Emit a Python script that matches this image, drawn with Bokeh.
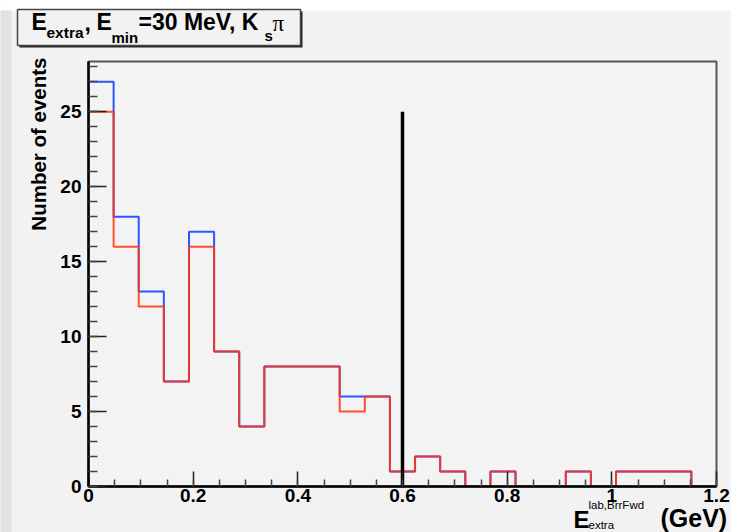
import numpy as np
from bokeh.plotting import figure
from bokeh.models import FixedTicker
from bokeh.core.properties import value
from bokeh.embed import file_html
from bokeh.resources import INLINE

# ---------------- data ----------------
bin_width = 0.048
n_bins = 25
x_min, x_max = 0.0, 1.2
y_max = 28.35
blue_counts = [27, 18, 13, 7, 17, 9, 4, 8, 8, 8, 6, 6, 1, 2, 1, 0, 1, 0, 0, 1, 0, 1, 1, 1, 0]
red_counts = [25, 16, 12, 7, 16, 9, 4, 8, 8, 8, 5, 6, 1, 2, 1, 0, 1, 0, 0, 1, 0, 1, 1, 1, 0]
cut_value = 0.6
cut_height = 25
x_ticks = [0, 0.2, 0.4, 0.6, 0.8, 1.0, 1.2]
x_tick_labels = ["0", "0.2", "0.4", "0.6", "0.8", "1", "1.2"]
y_ticks = [0, 5, 10, 15, 20, 25]
y_tick_labels = ["0", "5", "10", "15", "20", "25"]

W, H = 731, 532
FL, FR, FT, FB = 88, 716, 61, 486  # frame edges in pixels

bin_lo = [round(i * bin_width, 4) for i in range(n_bins)]
step_x = bin_lo + [x_max]

p = figure(width=W, height=H, output_backend="svg", toolbar_location=None,
           x_range=(x_min, x_max), y_range=(0, y_max),
           min_border_left=FL, min_border_right=W - FR,
           min_border_top=FT, min_border_bottom=H - FB)
p.border_fill_color = "#f2f2f2"
p.background_fill_color = "#f3f3f3"
p.outline_line_color = "#555555"
p.outline_line_width = 2
p.xgrid.visible = False
p.ygrid.visible = False

# helpers: pixel -> data coords for decorations
def dx(px):
    return x_min + (px - FL) * (x_max - x_min) / (FR - FL)

def dy(py):
    return (FB - py) * y_max / (FB - FT)

# axes
for ax in (p.xaxis[0], p.yaxis[0]):
    ax.axis_line_color = "black"
    ax.axis_line_width = 2.5
    ax.major_tick_out = 0
    ax.minor_tick_out = 0
    ax.major_tick_line_color = "#222222"
    ax.minor_tick_line_color = "#444444"
    ax.major_tick_line_width = 1.5
    ax.minor_tick_line_width = 1.5
    ax.major_label_text_font = "Liberation Sans"
    ax.major_label_text_font_style = "bold"
    ax.major_label_text_font_size = "19px"
    ax.major_label_text_color = "black"

p.xaxis.ticker = FixedTicker(ticks=x_ticks,
                             minor_ticks=[round(i * 0.05, 3) for i in range(25)])
p.xaxis.major_label_overrides = {t: l for t, l in zip(x_ticks, x_tick_labels)}
p.xaxis.major_tick_in = 15
p.xaxis.minor_tick_in = 7
p.xaxis.major_label_standoff = 2

p.yaxis.ticker = FixedTicker(ticks=y_ticks, minor_ticks=list(range(0, 29)))
p.yaxis.major_label_overrides = {t: l for t, l in zip(y_ticks, y_tick_labels)}
p.yaxis.major_tick_in = 18
p.yaxis.minor_tick_in = 9
p.yaxis.major_label_standoff = 7

# histograms
p.step(step_x, blue_counts + [blue_counts[-1]], mode="after",
       line_color="#2c55ff", line_width=2)
p.step(step_x, red_counts + [red_counts[-1]], mode="after",
       line_color="#ff3414", line_width=2, line_alpha=0.86)

# cut line
p.segment(x0=[cut_value], y0=[0], x1=[cut_value], y1=[cut_height],
          line_color="black", line_width=3.5)

# decorations outside the frame (overlay level)
p.quad(left=[dx(0)], right=[dx(W)], top=[dy(0)], bottom=[dy(10)],
       fill_color="white", line_alpha=0, level="overlay")
p.quad(left=[dx(0)], right=[dx(11)], top=[dy(10)], bottom=[dy(H)],
       fill_color="#e2e2e2", line_alpha=0, level="overlay")
p.quad(left=[dx(19)], right=[dx(302)], top=[dy(11)], bottom=[dy(47)],
       fill_color="#222222", line_alpha=0, level="overlay")
p.quad(left=[dx(17)], right=[dx(300)], top=[dy(9)], bottom=[dy(45)],
       fill_color="#f2f2f2", line_color="#444444", line_width=1.5, level="overlay")

MID = 0.35  # middle of the em box above the baseline, in em

def lab(text, px, base, size, style="bold", font="Liberation Sans", angle=0, align="left"):
    if angle:
        x, y = dx(base - MID * size), dy(px)
    else:
        x, y = dx(px), dy(base - MID * size)
    p.text(x=[x], y=[y], text=[text], text_font=value(font),
           text_font_size=f"{size}px", text_font_style=style,
           text_color="black", text_align=align,
           text_baseline="middle", angle=angle, level="overlay")

# title
lab("E", 31, 30, 23)
lab("extra", 46, 37, 15.5)
lab(",", 84, 30, 23)
lab("E", 96, 30, 23)
lab("min", 111, 42, 15)
lab("=30 MeV, K", 138, 30, 23)
lab("s", 264, 40, 15)
lab("π", 272, 31, 23, style="normal", font="Liberation Serif")

# y axis title (rotated; px is the top end, base is the baseline x)
lab("Number of events", 57, 45, 20.5, angle=np.pi / 2, align="right")

# x axis title
lab("E", 573, 527, 24)
lab("lab,BrrFwd", 588, 509, 11.5, style="normal")
lab("extra", 588, 528.5, 11.5, style="normal")
lab("(GeV)", 660, 526, 25)

open("out.html", "w").write(file_html(p, INLINE))
